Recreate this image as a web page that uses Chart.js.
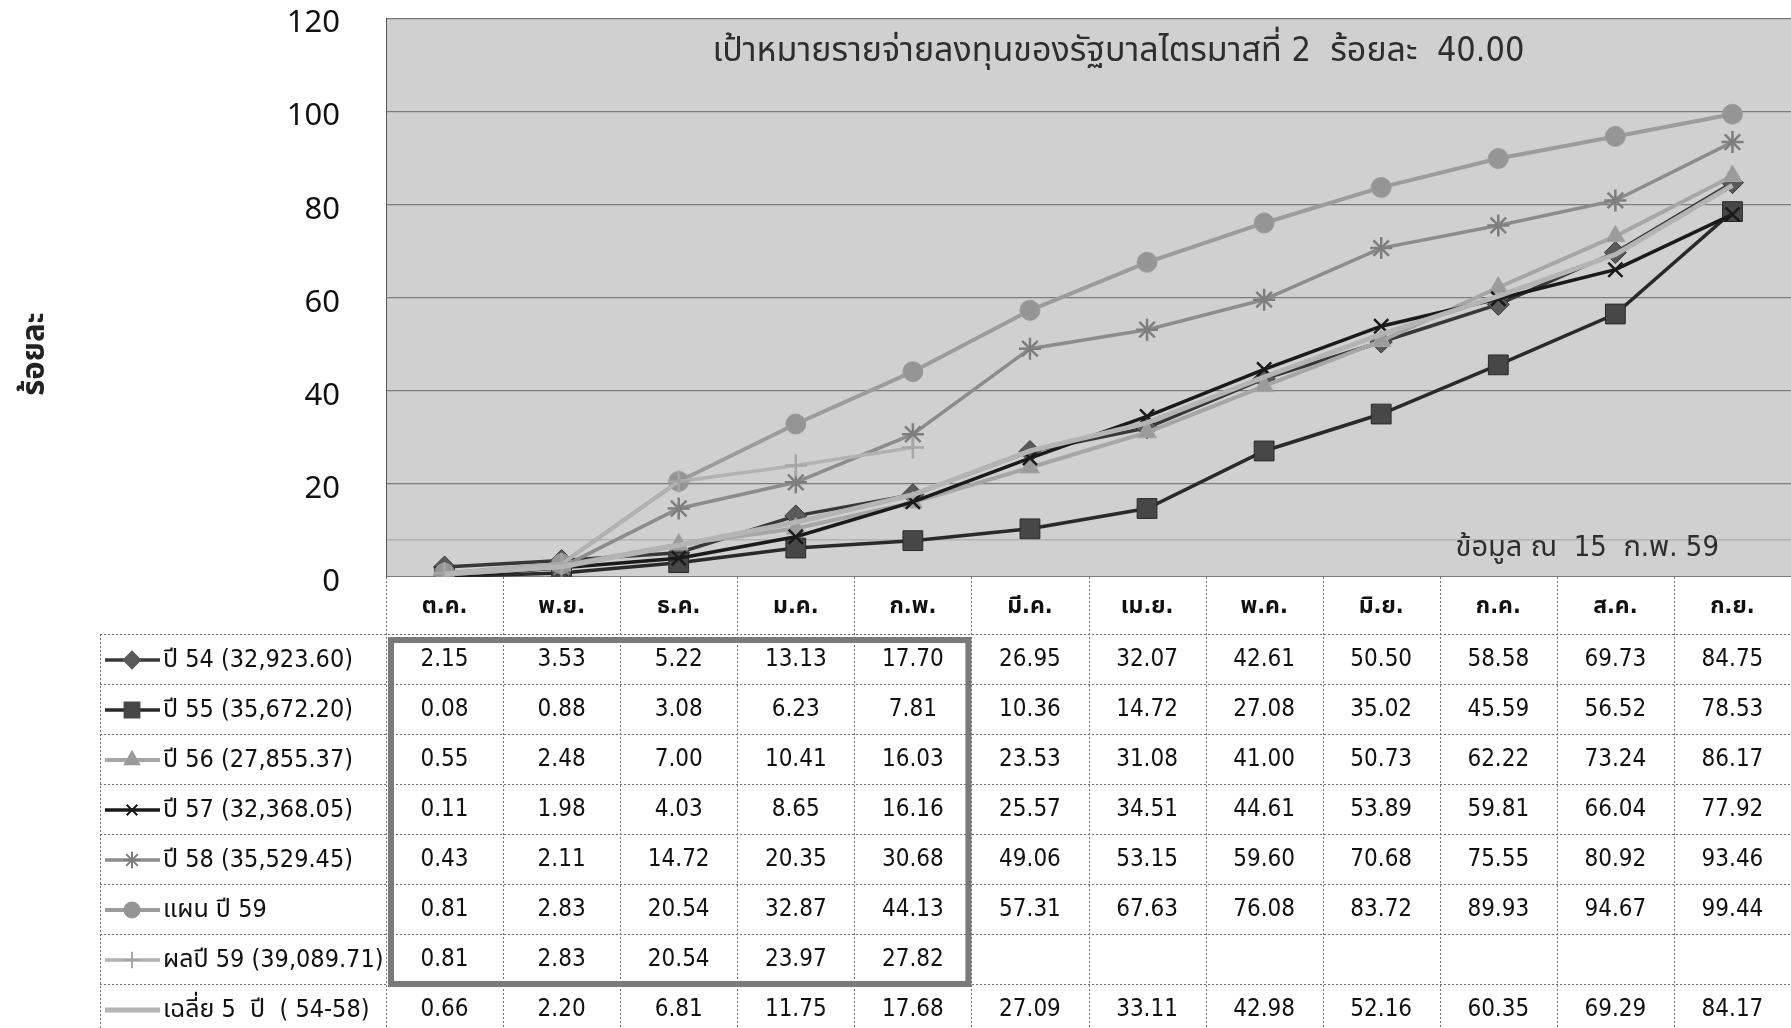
<!DOCTYPE html>
<html>
<head>
<meta charset="utf-8">
<script src="https://cdn.jsdelivr.net/npm/chart.js@4.4.1/dist/chart.umd.min.js"></script>
<style>
  html, body { margin: 0; padding: 0; background: #fff; }
  #wrap { width: 1791px; height: 1028px; }
</style>
</head>
<body>
<div id="wrap"><canvas id="chart" width="1791" height="1028"></canvas></div>
<script>
// months (Thai fiscal year, Oct - Sep)
const months = ['ต.ค.', 'พ.ย.', 'ธ.ค.', 'ม.ค.', 'ก.พ.', 'มี.ค.', 'เม.ย.', 'พ.ค.', 'มิ.ย.', 'ก.ค.', 'ส.ค.', 'ก.ย.'];

const seriesLabels = [
    'ปี 54 (32,923.60)',
    'ปี 55 (35,672.20)',
    'ปี 56 (27,855.37)',
    'ปี 57 (32,368.05)',
    'ปี 58 (35,529.45)',
    'แผน ปี 59',
    'ผลปี 59 (39,089.71)',
    'เฉลี่ย 5  ปี  ( 54-58)'
];

const year54 = [2.15, 3.53, 5.22, 13.13, 17.70, 26.95, 32.07, 42.61, 50.50, 58.58, 69.73, 84.75];
const year55 = [0.08, 0.88, 3.08, 6.23, 7.81, 10.36, 14.72, 27.08, 35.02, 45.59, 56.52, 78.53];
const year56 = [0.55, 2.48, 7.00, 10.41, 16.03, 23.53, 31.08, 41.00, 50.73, 62.22, 73.24, 86.17];
const year57 = [0.11, 1.98, 4.03, 8.65, 16.16, 25.57, 34.51, 44.61, 53.89, 59.81, 66.04, 77.92];
const year58 = [0.43, 2.11, 14.72, 20.35, 30.68, 49.06, 53.15, 59.60, 70.68, 75.55, 80.92, 93.46];
const plan59 = [0.81, 2.83, 20.54, 32.87, 44.13, 57.31, 67.63, 76.08, 83.72, 89.93, 94.67, 99.44];
const actual59 = [0.81, 2.83, 20.54, 23.97, 27.82, null, null, null, null, null, null, null];
const avg5yr = [0.66, 2.20, 6.81, 11.75, 17.68, 27.09, 33.11, 42.98, 52.16, 60.35, 69.29, 84.17];

const yTicks = [0, 20, 40, 60, 80, 100, 120];
const faintLineAt = 8;   // light rule near the bottom of the plot

const chartTitle = 'เป้าหมายรายจ่ายลงทุนของรัฐบาลไตรมาสที่ 2  ร้อยละ  40.00';
const dataNote = 'ข้อมูล ณ  15  ก.พ. 59';
const yTitle = 'ร้อยละ';
const boxedMonths = 5;   // first 5 months framed in the table
const boxedRows = 7;

const allSeries = [year54, year55, year56, year57, year58, plan59, actual59, avg5yr];

// look of each series, same order as above
const styles = [
    { line: '#383838', fill: '#5a5a5a', point: 'rectRot', r: 11, width: 3.5 },
    { line: '#2a2a2a', fill: '#474747', point: 'rect', r: 14, width: 3.5 },
    { line: '#a6a6a6', fill: '#9b9b9b', point: 'triangle', r: 11, width: 4 },
    { line: '#1a1a1a', fill: '#1a1a1a', point: 'crossRot', r: 10, width: 3.5 },
    { line: '#8c8c8c', fill: '#7e7e7e', point: 'star', r: 11, width: 3.5 },
    { line: '#9c9c9c', fill: '#959595', point: 'circle', r: 10, width: 4 },
    { line: '#b2b2b2', fill: '#a6a6a6', point: 'cross', r: 11, width: 3.5 },
    { line: '#b4b4b4', fill: '#b4b4b4', point: false, r: 0, width: 5 }
];

const FONT = "'DejaVu Sans Condensed', 'Noto Sans Thai', 'DejaVu Sans', sans-serif";
const TICK_FONT = "'Noto Sans', 'Open Sans', sans-serif";
Chart.defaults.font.family = FONT;

const thinMarks = ['cross', 'crossRot', 'star'];

const datasets = allSeries.map((vals, i) => {
    const s = styles[i];
    const thin = thinMarks.includes(s.point);
    return {
        label: seriesLabels[i],
        data: vals,
        borderColor: s.line,
        borderWidth: s.width,
        backgroundColor: s.fill,
        pointStyle: s.point,
        pointRadius: s.r,
        pointBackgroundColor: s.fill,
        pointBorderColor: thin ? s.fill : s.line,
        pointBorderWidth: thin ? 2.5 : 1,
        tension: 0,
        spanGaps: false,
        order: allSeries.length - i
    };
});

function drawMarker(ctx, s, x, y, r) {
    if (!s.point) return;
    ctx.save();
    ctx.fillStyle = s.fill;
    ctx.strokeStyle = s.fill;
    ctx.lineWidth = 2;
    Chart.helpers.drawPoint(ctx, { pointStyle: s.point, radius: r, rotation: 0, borderWidth: 2 }, x, y);
    ctx.restore();
}

const plotBackground = {
    id: 'plotBackground',
    beforeDraw(chart) {
        const { ctx, chartArea: a } = chart;
        ctx.save();
        ctx.fillStyle = '#d0d0d0';
        ctx.fillRect(a.left, a.top, a.right - a.left, a.bottom - a.top);
        const yf = chart.scales.y.getPixelForValue(faintLineAt);
        ctx.strokeStyle = '#b2b2b2';
        ctx.lineWidth = 1.5;
        ctx.beginPath();
        ctx.moveTo(a.left, yf);
        ctx.lineTo(a.right, yf);
        ctx.stroke();
        ctx.restore();
    },
    afterDatasetsDraw(chart) {
        const { ctx, chartArea: a } = chart;
        ctx.save();
        ctx.fillStyle = '#2e2e2e';
        ctx.font = '34px ' + FONT;
        ctx.textAlign = 'center';
        ctx.textBaseline = 'middle';
        ctx.fillText(chartTitle, (a.left + a.right) / 2 + 30, 52);
        ctx.font = '29px ' + FONT;
        ctx.textAlign = 'right';
        ctx.fillText(dataNote, a.right - 72, 548);
        // y title
        ctx.translate(36, 354);
        ctx.rotate(-Math.PI / 2);
        ctx.textAlign = 'center';
        ctx.font = 'bold 31px ' + FONT;
        ctx.fillStyle = '#222';
        ctx.fillText(yTitle, 0, 0);
        ctx.restore();
    }
};

const dataTable = {
    id: 'dataTable',
    afterDraw(chart) {
        const { ctx, chartArea: a } = chart;
        const xs = chart.scales.x;
        const colW = (a.right - a.left) / months.length;
        const headTop = a.bottom;
        const headH = 57;
        const rowH = 50;
        const bodyTop = headTop + headH;
        const legendLeft = 100;
        const bottom = bodyTop + rowH * seriesLabels.length;

        ctx.save();
        ctx.fillStyle = '#fff';
        ctx.fillRect(a.left, headTop, a.right - a.left, chart.height - headTop);

        // grid of the table
        ctx.strokeStyle = '#707070';
        ctx.lineWidth = 1;
        ctx.setLineDash([2, 2]);
        ctx.beginPath();
        for (let c = 0; c <= months.length; c++) {
            const x = Math.round(a.left + c * colW) + 0.5;
            ctx.moveTo(x, headTop);
            ctx.lineTo(x, bottom);
        }
        ctx.moveTo(legendLeft + 0.5, bodyTop);
        ctx.lineTo(legendLeft + 0.5, bottom);
        for (let r = 0; r <= seriesLabels.length; r++) {
            const y = Math.round(bodyTop + r * rowH) + 0.5;
            ctx.moveTo(legendLeft, y);
            ctx.lineTo(a.right, y);
        }
        ctx.stroke();
        ctx.setLineDash([]);

        // month header
        ctx.fillStyle = '#111';
        ctx.textAlign = 'center';
        ctx.textBaseline = 'middle';
        ctx.font = 'bold 23px ' + FONT;
        months.forEach((m, i) => {
            ctx.fillText(m, xs.getPixelForValue(i), headTop + headH / 2 + 2);
        });

        // rows
        ctx.font = '24px ' + FONT;
        allSeries.forEach((vals, r) => {
            const cy = bodyTop + rowH * r + rowH / 2 + 1;
            vals.forEach((v, i) => {
                if (v === null) return;
                ctx.fillStyle = '#111';
                ctx.textAlign = 'center';
                ctx.fillText(v.toFixed(2), xs.getPixelForValue(i), cy);
            });
            // legend key
            const s = styles[r];
            ctx.strokeStyle = s.line;
            ctx.lineWidth = s.width;
            ctx.beginPath();
            ctx.moveTo(105, cy);
            ctx.lineTo(160, cy);
            ctx.stroke();
            drawMarker(ctx, s, 132, cy, s.r * 0.75);
            ctx.fillStyle = '#111';
            ctx.textAlign = 'left';
            ctx.font = '25px ' + FONT;
            ctx.fillText(seriesLabels[r], 163, cy);
            ctx.font = '24px ' + FONT;
        });

        // frame round the reported months
        ctx.strokeStyle = '#7a7a7a';
        ctx.lineWidth = 6;
        ctx.strokeRect(a.left + 5, bodyTop + 6, colW * boxedMonths - 8, rowH * boxedRows - 6);
        ctx.restore();
    }
};

new Chart(document.getElementById('chart'), {
    type: 'line',
    data: { labels: months, datasets: datasets },
    options: {
        responsive: false,
        animation: false,
        devicePixelRatio: 1,
        layout: { autoPadding: false, padding: { top: 18, bottom: 451, left: 0, right: 0 } },
        plugins: {
            legend: { display: false },
            title: { display: false },
            tooltip: { enabled: false }
        },
        scales: {
            x: {
                type: 'category',
                offset: true,
                grid: { display: false },
                border: { display: false },
                ticks: { display: false },
                afterFit(scale) { scale.height = 0; }
            },
            y: {
                min: 0,
                max: 120,
                afterBuildTicks(scale) { scale.ticks = yTicks.map(v => ({ value: v })); },
                afterFit(scale) { scale.width = 386; },
                ticks: { color: '#111', padding: 0, labelOffset: 5, font: { size: 31, family: TICK_FONT } },
                grid: { color: '#7c7c7c', lineWidth: 1.2, drawTicks: true, tickLength: 46, tickColor: 'rgba(0,0,0,0)' },
                border: { display: true, color: '#555', width: 1 }
            }
        }
    },
    plugins: [plotBackground, dataTable]
});
</script>
</body>
</html>
